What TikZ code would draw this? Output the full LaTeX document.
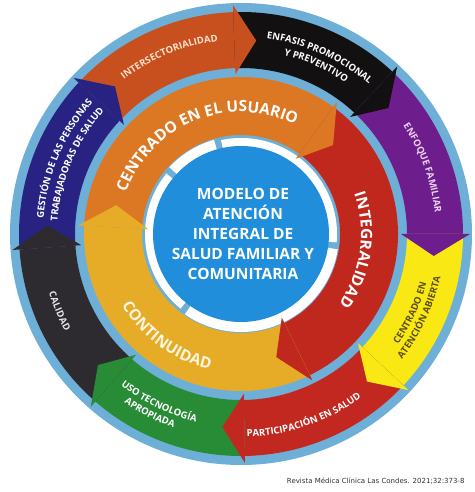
\documentclass[tikz,border=0pt]{standalone}
\usepackage{fontspec}
\setmainfont{Open Sans}
\newfontfamily\citefont{DejaVu Sans}
\usetikzlibrary{decorations.text}

\definecolor{anillo}{RGB}{110,175,215}
\definecolor{centro}{RGB}{32,142,218}
\definecolor{cInter}{RGB}{200,80,30}
\definecolor{cEnfasis}{RGB}{18,16,16}
\definecolor{cEnfoque}{RGB}{110,30,140}
\definecolor{cAbierta}{RGB}{250,232,20}
\definecolor{cPartic}{RGB}{195,40,32}
\definecolor{cTecno}{RGB}{40,140,55}
\definecolor{cCalidad}{RGB}{45,42,48}
\definecolor{cGestion}{RGB}{40,35,130}
\definecolor{cUsuario}{RGB}{220,120,35}
\definecolor{cIntegral}{RGB}{192,40,30}
\definecolor{cContinua}{RGB}{230,172,40}
\definecolor{txPeach}{RGB}{252,225,205}
\definecolor{txLila}{RGB}{232,212,240}
\definecolor{txOliva}{RGB}{90,80,20}
\definecolor{txCrema}{RGB}{255,246,225}

% arcs for text, centre angle / radius / half span
\newcommand{\cwarc}[3]{({#1+#3}:#2) arc[start angle={#1+#3}, end angle={#1-#3}, radius=#2]}
\newcommand{\ccwarc}[3]{({#1-#3}:#2) arc[start angle={#1-#3}, end angle={#1+#3}, radius=#2]}

\begin{document}
\begin{tikzpicture}[x=1pt, y=1pt,
    outerlbl/.style={decorate, decoration={text along path, text align=center, text color=white,
      text={|\fontsize{9.5}{11}\selectfont\bfseries|#1}}},
    innerlbl/.style={decorate, decoration={text along path, text align=center, text color=white,
      text={|\fontsize{15.5}{18}\selectfont\bfseries|#1}}}
]
\useasboundingbox (-241,-258) rectangle (233,234);
\fill[white] (-241,-258) rectangle (233,234);

% light blue disk
\fill[anillo] (0,0) circle[radius=231];

% outer ring of arrows
\foreach \s/\e/\col in {137/92/cInter, 92/47/cEnfasis, 47/0/cEnfoque, 0/-43/cAbierta,
                        -43/-89/cPartic, -89/-131/cTecno, -131/-176/cCalidad, 184/137/cGestion}
  \fill[\col] (\s:222) arc[start angle=\s, end angle=\e, radius=222]
    -- (\e:166) arc[start angle=\e, end angle=\s, radius=166] -- cycle;
\foreach \e/\col in {92/cInter, 47/cEnfasis, 0/cEnfoque, -43/cAbierta,
                     -89/cPartic, -131/cTecno, -176/cCalidad, 137/cGestion}
  \fill[\col] (\e:160) -- (\e:229) -- ({\e-6.5}:194) -- cycle;

% white ring round the centre
\foreach \s/\e/\o in {102/-5/0, -9/-125/2, -129/-219/0, 137/106/2}
  \fill[white] (\s:{96+\o}) arc[start angle=\s, end angle=\e, radius={96+\o}]
    -- (\e:86) arc[start angle=\e, end angle=\s, radius=86] -- cycle;
\fill[centro] (0,0) circle[radius=88];

% inner ring of arrows
\foreach \s/\e/\col in {177/54/cUsuario, 54/-64/cIntegral, -64/-183/cContinua}
  \fill[\col] (\s:157) arc[start angle=\s, end angle=\e, radius=157]
    -- (\e:99) arc[start angle=\e, end angle=\s, radius=99] -- cycle;
\foreach \e/\col in {54/cUsuario, -64/cIntegral, -183/cContinua}
  \fill[\col] (\e:93) -- (\e:163) -- ({\e-10}:128) -- cycle;

% outer labels
\path[outerlbl=INTERSECTORIALIDAD, decoration={text color=txPeach}] \cwarc{112}{194}{40};
\path[outerlbl=ENFASIS PROMOCIONAL] \cwarc{66}{197}{40};
\path[outerlbl=Y PREVENTIVO] \cwarc{66}{184}{40};
\path[outerlbl=ENFOQUE FAMILIAR, decoration={text color=txLila}] \cwarc{20}{195}{40};
\path[outerlbl=CENTRADO EN, decoration={text color=txOliva}] \ccwarc{-25}{192}{40};
\path[outerlbl=ATENCIÓN ABIERTA, decoration={text color=txOliva}] \ccwarc{-25}{204}{40};
\path[outerlbl=PARTICIPACIÓN EN SALUD] \ccwarc{-71}{203}{40};
\path[outerlbl=USO TECNOLOGÍA] \ccwarc{-116}{193}{40};
\path[outerlbl=APROPIADA] \ccwarc{-117}{205}{40};
\path[outerlbl=CALIDAD, decoration={text color=black!10}] \ccwarc{-157}{201}{40};
\path[outerlbl=GESTIÓN DE LAS PERSONAS] \cwarc{157}{198}{40};
\path[outerlbl=TRABAJADORAS DE SALUD] \cwarc{157}{184}{40};

% inner labels
\path[innerlbl=CENTRADO EN EL USUARIO] \cwarc{112}{122}{75};
\path[innerlbl=INTEGRALIDAD] \cwarc{-8}{120}{60};
\path[innerlbl=CONTINUIDAD, decoration={text color=txCrema}] \ccwarc{-126}{139}{60};

\node[align=center, text=white, font=\bfseries\fontsize{15.5}{20}\selectfont] (modelo) at (2,0)
  {MODELO DE\\ATENCIÓN\\INTEGRAL DE\\SALUD FAMILIAR Y\\COMUNITARIA};

\node[anchor=base east, text=black!80, font=\citefont\fontsize{7}{8}\selectfont] (cita) at (227,-249)
  {Revista Médica Clínica Las Condes. 2021;32:373-8};
\end{tikzpicture}
\end{document}
